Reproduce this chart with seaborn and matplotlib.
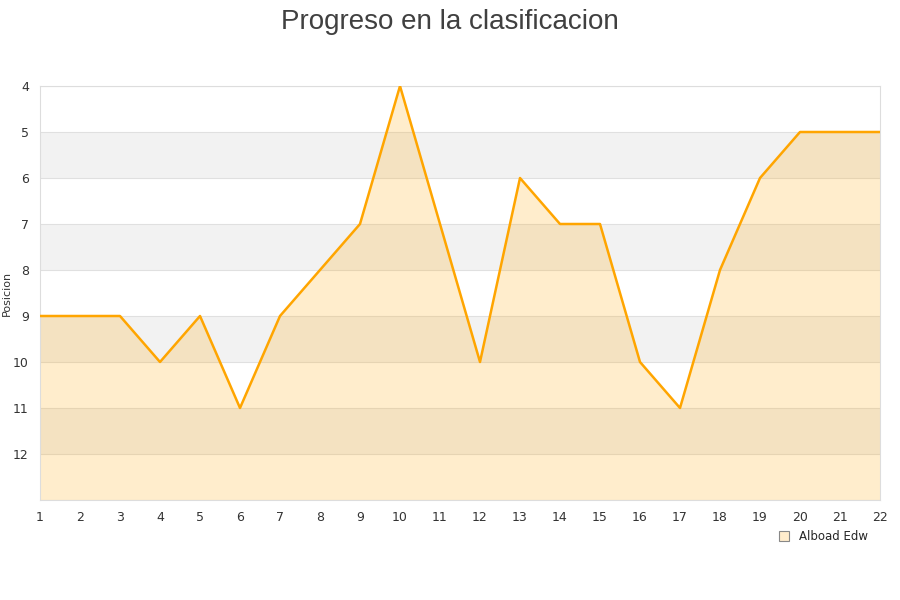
import matplotlib
matplotlib.use("Agg")
import matplotlib.pyplot as plt
import seaborn as sns
import pandas as pd
import numpy as np
from matplotlib.lines import Line2D

jornadas = list(range(1, 23))
posiciones = [9, 9, 9, 10, 9, 11, 9, 8, 7, 4, 7, 10, 6, 7, 7, 10, 11, 8, 6, 5, 5, 5]
equipo = "Alboad Edw"
y_ticks = list(range(4, 13))

sns.set_style("white")
plt.rcParams['font.family'] = ['DejaVu Sans']

df = pd.DataFrame({"Jornada": jornadas, "Posicion": posiciones})

fig = plt.figure(figsize=(9, 6), dpi=100)
ax = fig.add_axes([40 / 900, 100 / 600, 840 / 900, 414 / 600])

# alternating bands
for lo in range(5, 13, 2):
    ax.axhspan(lo, lo + 1, color="#f2f2f2", zorder=0, lw=0)
for t in range(4, 14):
    ax.axhline(t, color="#e0e0e0", lw=0.8, zorder=1)

ax.fill_between(df["Jornada"], df["Posicion"], 13, color="#ffa500", alpha=0.2, lw=0, zorder=2)
sns.lineplot(data=df, x="Jornada", y="Posicion", color="#ffa500", lw=1.8, ax=ax, zorder=3)

ax.set_xlim(1, 22)
ax.set_ylim(13, 4)
ax.set_xticks(jornadas)
ax.set_yticks(y_ticks)
ax.tick_params(axis="both", labelsize=9, colors="#333333", length=0, pad=8)
ax.set_xlabel("")
ax.set_ylabel("Posicion", fontsize=8, color="#333333")
ax.yaxis.set_label_coords(-28 / 840, 0.5)
for s in ax.spines.values():
    s.set_color("#dddddd")
    s.set_linewidth(0.8)

fig.suptitle("Progreso en la clasificacion", fontsize=20, color="#404040",
             family="Liberation Sans", y=0.985)

handle = Line2D([], [], marker="s", linestyle="none", markersize=7,
                markerfacecolor="#ffeccc", markeredgecolor="#888888", markeredgewidth=0.8)
fig.legend([handle], [equipo], loc="center", bbox_to_anchor=(820 / 900, 1 - 537 / 600),
           frameon=False, fontsize=8.5, handletextpad=0.3)

fig.savefig("out.png", dpi=100)
